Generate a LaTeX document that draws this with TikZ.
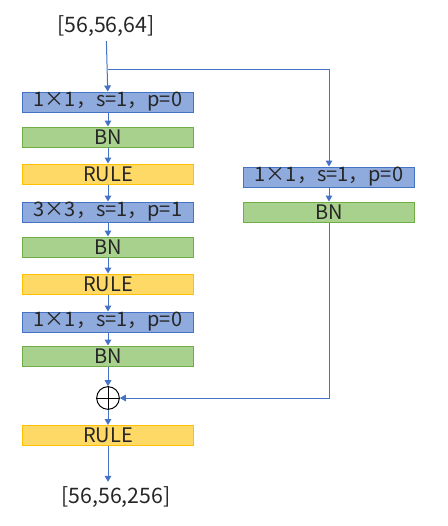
\documentclass[tikz,border=0pt]{standalone}
\usepackage{fontspec}
\setmainfont{Noto Sans CJK SC}
\usetikzlibrary{arrows.meta}
\definecolor{convfill}{HTML}{8FAADC}
\definecolor{convline}{HTML}{4472C4}
\definecolor{bnfill}{HTML}{A9D18E}
\definecolor{bnline}{HTML}{70AD47}
\definecolor{relufill}{HTML}{FFD966}
\definecolor{reluline}{HTML}{FFC000}
\definecolor{flowline}{HTML}{4472C4}
\tikzset{
  layer/.style={minimum width=128.25pt, minimum height=15pt, inner sep=0pt,
    line width=0.75pt, text=black!85, font=\fontsize{15}{15}\selectfont},
  conv/.style={layer, draw=convline, fill=convfill},
  bn/.style={layer, draw=bnline, fill=bnfill},
  relu/.style={layer, draw=reluline, fill=relufill},
  flow/.style={draw=flowline, line width=0.75pt, -{Triangle[width=5pt,length=4.5pt]}},
  shape label/.style={text=black!85, font=\fontsize{16}{17}\selectfont}
}
\begin{document}
\begin{tikzpicture}[x=0.75pt,y=-0.75pt]
\useasboundingbox (0,0) rectangle (448,526);

% main path
\node[shape label] (in) at (106,26) {[56,56,64]};
\node[conv] (c1) at (108,102) {1×1，s=1，p=0};
\node[bn]   (bn1) at (108,137) {BN};
\node[relu] (r1) at (108,174) {RULE};
\node[conv] (c2) at (108,212) {3×3，s=1，p=1};
\node[bn]   (bn2) at (108,247) {BN};
\node[relu] (r2) at (108,284) {RULE};
\node[conv] (c3) at (108,322) {1×1，s=1，p=0};
\node[bn]   (bn3) at (108,356) {BN};
\node[draw, circle, line width=0.75pt, minimum size=17pt, inner sep=0pt] (add) at (108,398) {};
\node[relu] (r3) at (108,435.5) {RULE};
\node[shape label] (out) at (116,497) {[56,56,256]};

% shortcut
\node[conv] (sc) at (329,177) {1×1，s=1，p=0};
\node[bn]   (sbn) at (329,212) {BN};
\coordinate (split) at (108,69);

\draw (add.north) -- (add.south) (add.west) -- (add.east);

\foreach \a/\b in {in/c1, c1/bn1, bn1/r1, r1/c2, c2/bn2, bn2/r2, r2/c3, c3/bn3, bn3/add, add/r3}
  \draw[flow] (\a) -- (\b);
\draw[flow] (r3) -- (r3.south |- out.north);
\draw[flow] (split) -| (sc);
\draw[flow] (sc) -- (sbn);
\draw[flow] (sbn) |- (add);

\end{tikzpicture}
\end{document}
